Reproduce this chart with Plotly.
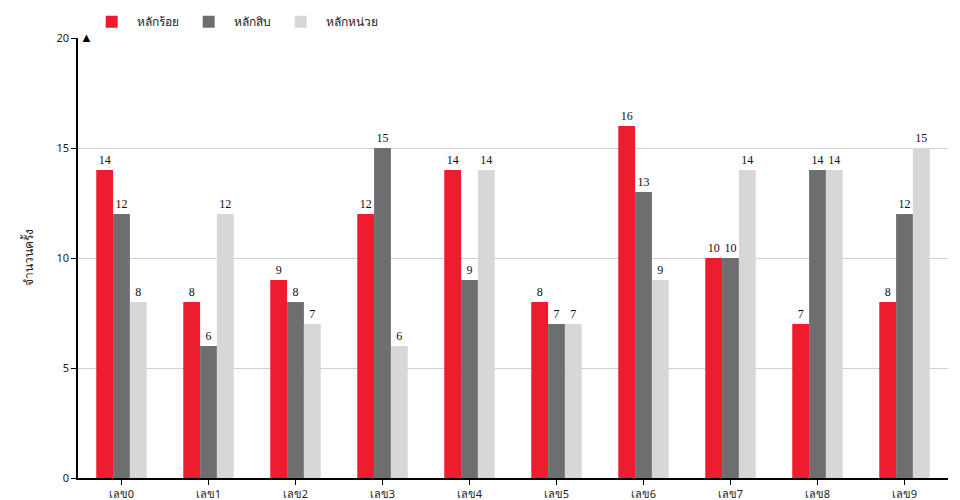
import plotly.graph_objects as go

categories = ["เลข0","เลข1","เลข2","เลข3","เลข4","เลข5","เลข6","เลข7","เลข8","เลข9"]
hundreds = [14,8,9,12,14,8,16,10,7,8]
tens = [12,6,8,15,9,7,13,10,14,12]
units = [8,12,7,6,14,7,9,14,14,15]
names = ["หลักร้อย","หลักสิบ","หลักหน่วย"]
colors = ["#ed1c2e","#6d6e70","#d7d7d7"]
tick_vals = [0,5,10,15,20]

fig = go.Figure()
for n, v, c in zip(names, [hundreds, tens, units], colors):
    fig.add_trace(go.Bar(x=categories, y=v, name=n, marker_color=c, marker_line_width=0,
                         text=v, textposition="outside", cliponaxis=False,
                         textfont=dict(family="Liberation Serif", size=12, color="#111")))

fig.update_layout(
    width=960, height=500, margin=dict(l=70, r=20, t=30, b=30, autoexpand=False),
    plot_bgcolor="white", paper_bgcolor="white", barmode="group",
    bargap=0.42, bargroupgap=0,
    font=dict(family="Noto Sans", size=11, color="#222"),
    legend=dict(orientation="h", x=0.01, y=1.037, xanchor="left", yanchor="middle",
                font=dict(size=12), itemwidth=40, itemsizing="constant"),
    xaxis=dict(showline=True, linecolor="black", linewidth=1.5, ticks="outside",
               ticklen=5, tickcolor="black"),
    yaxis=dict(range=[0,20], tickvals=tick_vals, showgrid=True, gridcolor="#d0d0d0",
               showline=True, linecolor="black", linewidth=1.5, ticks="outside",
               ticklen=5, tickcolor="black", zeroline=False,
               title=dict(text="จำนวนครั้ง", standoff=20, font=dict(size=12))),
)
fig.add_annotation(x=0, y=1, xref="paper", yref="paper", text="▲", showarrow=False,
                   yshift=12, font=dict(size=13, color="black"))
fig.write_html("out.html")
